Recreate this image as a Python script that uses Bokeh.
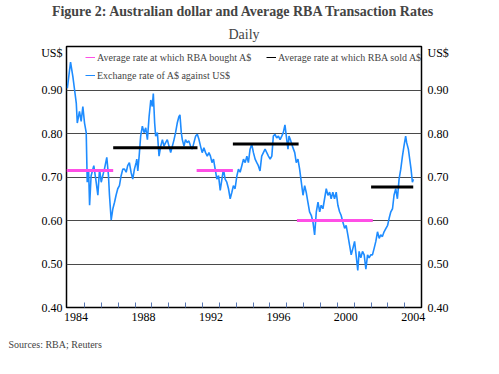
from bokeh.plotting import figure
from bokeh.models import (Range1d, LinearAxis, FixedTicker, NumeralTickFormatter,
                          Title, Legend, LegendItem, ColumnDataSource)
from bokeh.embed import file_html
from bokeh.resources import INLINE

# ---- data ----
years = [1983.98, 1984.17, 1984.31, 1984.41, 1984.51, 1984.57, 1984.70, 1984.80, 1984.90, 1985.00,
         1985.10, 1985.16, 1985.24, 1985.30, 1985.39, 1985.55, 1985.69, 1985.79, 1985.89, 1985.99,
         1986.08, 1986.18, 1986.32, 1986.42, 1986.48, 1986.58, 1986.68, 1986.78, 1986.87, 1986.97,
         1987.07, 1987.17, 1987.27, 1987.37, 1987.47, 1987.56, 1987.66, 1987.76, 1987.86, 1987.96,
         1988.06, 1988.10, 1988.16, 1988.24, 1988.33, 1988.43, 1988.53, 1988.63, 1988.73, 1988.83,
         1988.93, 1989.02, 1989.08, 1989.16, 1989.22, 1989.32, 1989.42, 1989.52, 1989.62, 1989.71,
         1989.81, 1989.91, 1990.01, 1990.11, 1990.21, 1990.31, 1990.40, 1990.50, 1990.60, 1990.66,
         1990.74, 1990.80, 1990.90, 1990.99, 1991.09, 1991.19, 1991.29, 1991.39, 1991.49, 1991.59,
         1991.69, 1991.79, 1991.88, 1991.98, 1992.08, 1992.18, 1992.28, 1992.38, 1992.47, 1992.56,
         1992.65, 1992.75, 1992.85, 1992.95, 1993.05, 1993.15, 1993.24, 1993.34, 1993.44, 1993.54,
         1993.64, 1993.74, 1993.83, 1993.93, 1994.04, 1994.13, 1994.23, 1994.33, 1994.43, 1994.53,
         1994.63, 1994.72, 1994.82, 1994.92, 1995.02, 1995.12, 1995.22, 1995.31, 1995.41, 1995.51,
         1995.61, 1995.71, 1995.81, 1995.91, 1996.01, 1996.11, 1996.20, 1996.30, 1996.40, 1996.50,
         1996.60, 1996.70, 1996.79, 1996.89, 1996.97, 1997.07, 1997.13, 1997.21, 1997.33, 1997.47,
         1997.56, 1997.66, 1997.76, 1997.86, 1997.96, 1998.06, 1998.15, 1998.25, 1998.35, 1998.45,
         1998.55, 1998.65, 1998.75, 1998.85, 1998.95, 1999.04, 1999.14, 1999.24, 1999.34, 1999.44,
         1999.54, 1999.63, 1999.73, 1999.83, 1999.93, 2000.03, 2000.13, 2000.22, 2000.32, 2000.43,
         2000.52, 2000.62, 2000.72, 2000.82, 2000.92, 2001.02, 2001.11, 2001.21, 2001.29, 2001.39,
         2001.49, 2001.59, 2001.69, 2001.79, 2001.88, 2001.98, 2002.08, 2002.18, 2002.28, 2002.38,
         2002.48, 2002.57, 2002.67, 2002.77, 2002.88, 2002.98, 2003.07, 2003.17, 2003.27, 2003.36,
         2003.46, 2003.56, 2003.66, 2003.76, 2003.86, 2003.95, 2004.05, 2004.11, 2004.21, 2004.29,
         2004.37, 2004.45, 2004.51]
rate = [0.904, 0.964, 0.930, 0.900, 0.870, 0.824, 0.851, 0.828, 0.862, 0.824,
        0.802, 0.688, 0.718, 0.635, 0.703, 0.726, 0.688, 0.658, 0.718, 0.688,
        0.703, 0.718, 0.745, 0.703, 0.658, 0.601, 0.627, 0.642, 0.658, 0.673,
        0.680, 0.703, 0.718, 0.718, 0.711, 0.726, 0.733, 0.711, 0.695, 0.718,
        0.733, 0.741, 0.714, 0.748, 0.794, 0.817, 0.802, 0.813, 0.786, 0.839,
        0.877, 0.862, 0.892, 0.824, 0.794, 0.802, 0.748, 0.771, 0.786, 0.771,
        0.779, 0.786, 0.771, 0.756, 0.771, 0.786, 0.802, 0.824, 0.839, 0.843,
        0.802, 0.786, 0.771, 0.786, 0.779, 0.783, 0.771, 0.764, 0.779, 0.794,
        0.798, 0.786, 0.771, 0.756, 0.767, 0.756, 0.748, 0.756, 0.748, 0.733,
        0.741, 0.718, 0.695, 0.703, 0.669, 0.695, 0.718, 0.695, 0.688, 0.673,
        0.650, 0.665, 0.680, 0.673, 0.703, 0.718, 0.711, 0.726, 0.741, 0.733,
        0.748, 0.733, 0.764, 0.775, 0.756, 0.741, 0.733, 0.726, 0.714, 0.748,
        0.756, 0.764, 0.756, 0.748, 0.741, 0.748, 0.794, 0.798, 0.790, 0.794,
        0.786, 0.794, 0.802, 0.820, 0.794, 0.764, 0.794, 0.786, 0.771, 0.756,
        0.733, 0.741, 0.718, 0.688, 0.658, 0.680, 0.665, 0.642, 0.620, 0.612,
        0.597, 0.567, 0.620, 0.642, 0.620, 0.635, 0.627, 0.650, 0.673, 0.658,
        0.665, 0.650, 0.665, 0.650, 0.665, 0.635, 0.620, 0.612, 0.597, 0.582,
        0.589, 0.567, 0.544, 0.521, 0.536, 0.552, 0.521, 0.485, 0.529, 0.514,
        0.529, 0.521, 0.488, 0.521, 0.514, 0.521, 0.521, 0.536, 0.552, 0.574,
        0.559, 0.567, 0.563, 0.574, 0.582, 0.589, 0.605, 0.620, 0.627, 0.658,
        0.673, 0.650, 0.695, 0.718, 0.748, 0.771, 0.794, 0.779, 0.764, 0.741,
        0.718, 0.688, 0.695]

bought_start = [1983.93, 1991.65, 1997.60]
bought_end = [1986.70, 1993.80, 2002.10]
bought_rate = [0.715, 0.715, 0.600]

sold_start = [1986.70, 1993.80, 2002.00]
sold_end = [1991.70, 1997.70, 2004.50]
sold_rate = [0.767, 0.776, 0.677]

y_ticks = [0.4, 0.5, 0.6, 0.7, 0.8, 0.9]
grid_ticks = [0.5, 0.6, 0.7, 0.8, 0.9]
x_label_years = [1984, 1988, 1992, 1996, 2000, 2004]
x_minor_ticks = list(range(1985, 2005))

title_text = "Figure 2: Australian dollar and Average RBA Transaction Rates"
subtitle_text = "Daily"
unit_text = "US$"
unit_pos = 0.986          # where the "US$" unit sits at the top of each axis
source_text = "Sources: RBA; Reuters"
label_bought = "Average rate at which RBA bought A$"
label_sold = "Average rate at which RBA sold A$"
label_fx = "Exchange rate of A$ against US$"

# ---- styling ----
FONT = "Liberation Serif"
BLUE = "#1e8cff"
PINK = "#ff4fe6"
BLACK = "#000000"
W, H = 499, 374
FL, FR, FT, FB = 66, 421, 44, 307   # frame edges in page pixels

p = figure(width=W, height=H, output_backend="svg", toolbar_location=None, title=None,
           x_range=Range1d(1983.93, 2004.99), y_range=Range1d(0.4, 1.0),
           min_border_left=FL, min_border_right=W - FR,
           min_border_top=FT, min_border_bottom=H - FB)
p.background_fill_color = "white"
p.border_fill_color = "white"
p.outline_line_color = "black"
p.outline_line_width = 1.5

fx = ColumnDataSource(dict(x=years, y=rate))
p.line("x", "y", source=fx, line_color=BLUE, line_width=1.6)

bsrc = ColumnDataSource(dict(x0=bought_start, x1=bought_end, y=bought_rate))
ssrc = ColumnDataSource(dict(x0=sold_start, x1=sold_end, y=sold_rate))
p.segment(x0="x0", y0="y", x1="x1", y1="y", source=bsrc, line_color=PINK, line_width=3)
p.segment(x0="x0", y0="y", x1="x1", y1="y", source=ssrc, line_color=BLACK, line_width=3)

# legend proxies (thin lines as in the reference legend)
nan = float("nan")
lb = p.line([nan], [nan], line_color=PINK, line_width=1)
ls = p.line([nan], [nan], line_color=BLACK, line_width=1)
lf = p.line([nan], [nan], line_color=BLUE, line_width=1)

legend = Legend(items=[LegendItem(label=label_bought, renderers=[lb]),
                       LegendItem(label=label_sold, renderers=[ls]),
                       LegendItem(label=label_fx, renderers=[lf])],
                orientation="horizontal", ncols=2,
                location=(19, 225), margin=0, padding=0, spacing=4,
                glyph_width=10, glyph_height=14, label_height=14, label_width=165,
                label_standoff=2,
                label_text_font=FONT, label_text_font_size="10px",
                border_line_color=None, background_fill_alpha=0)
p.add_layout(legend)

# grid
p.xgrid.visible = False
p.ygrid.ticker = FixedTicker(ticks=grid_ticks)
p.ygrid.grid_line_color = "#4a4a4a"
p.ygrid.grid_line_width = 1

# y axes (left and right), with the "US$" unit written at the top
yl = p.yaxis[0]
yr = LinearAxis()
p.add_layout(yr, "right")
for ax in (yl, yr):
    ax.ticker = FixedTicker(ticks=y_ticks + [unit_pos])
    ax.formatter = NumeralTickFormatter(format="0.00")
    ax.major_label_overrides = {unit_pos: unit_text}
    ax.axis_line_color = None
    ax.major_tick_line_color = None
    ax.minor_tick_line_color = None
    ax.major_tick_in = 0
    ax.major_tick_out = 0
    ax.major_label_text_font = FONT
    ax.major_label_text_font_size = "12px"
    ax.major_label_text_color = "black"
yl.major_label_standoff = 4
yr.major_label_standoff = 6

# x axis
xa = p.xaxis[0]
xa.ticker = FixedTicker(ticks=[y + 0.5 for y in x_label_years], minor_ticks=x_minor_ticks)
xa.major_label_overrides = {y + 0.5: str(y) for y in x_label_years}
xa.axis_line_color = None
xa.major_tick_line_color = None
xa.major_tick_in = 0
xa.major_tick_out = 0
xa.minor_tick_in = 5
xa.minor_tick_out = 0
xa.minor_tick_line_color = "#5a78b4"
xa.minor_tick_line_width = 1
xa.major_label_standoff = 5
xa.major_label_text_font = FONT
xa.major_label_text_font_size = "12px"
xa.major_label_text_color = "black"

# titles above, source note below
p.add_layout(Title(text=subtitle_text, align="center", text_font=FONT,
                   text_font_size="14px", text_font_style="normal",
                   standoff=9, offset=0), "above")
p.add_layout(Title(text=title_text, align="center", text_font=FONT,
                   text_font_size="14px", text_font_style="bold",
                   standoff=3, offset=0), "above")
p.add_layout(Title(text=source_text, align="left", text_font=FONT,
                   text_font_size="10px", text_font_style="normal",
                   standoff=26, offset=8 - FL), "below")

open("out.html", "w").write(file_html(p, INLINE))
